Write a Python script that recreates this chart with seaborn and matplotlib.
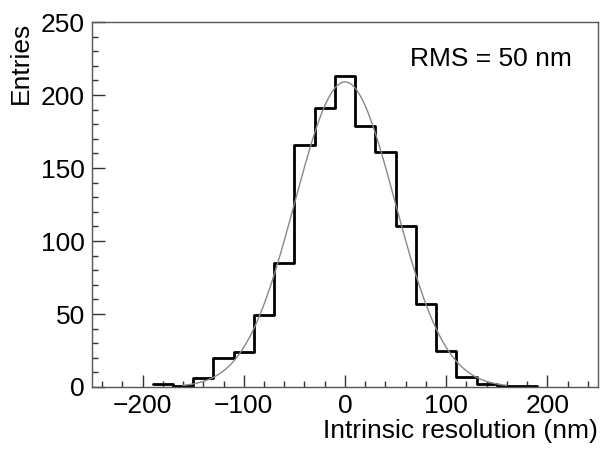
import numpy as np
import matplotlib
matplotlib.use("Agg")
import matplotlib.pyplot as plt
from matplotlib.ticker import MultipleLocator
import seaborn as sns

# histogram data: 20 nm bins
bin_edges = [-190, -170, -150, -130, -110, -90, -70, -50, -30, -10,
             10, 30, 50, 70, 90, 110, 130, 150, 170, 190]
bin_centres = [-180, -160, -140, -120, -100, -80, -60, -40, -20, 0,
               20, 40, 60, 80, 100, 120, 140, 160, 180]
counts = [2, 1, 6, 20, 24, 49, 85, 166, 191, 213,
          179, 161, 110, 57, 25, 7, 2, 1, 1]

# gaussian fit parameters
fit_amp = 209
fit_mean = 0
fit_sigma = 49.5
fit_range = (-160, 160)

sns.set_theme(style="white")
plt.rcParams['font.family'] = ['Liberation Sans', 'DejaVu Sans']
plt.rcParams['text.color'] = 'black'
plt.rcParams['axes.labelcolor'] = 'black'
plt.rcParams['xtick.labelcolor'] = 'black'
plt.rcParams['ytick.labelcolor'] = 'black'

fig = plt.figure(figsize=(6.01, 4.5), dpi=100)
ax = fig.add_axes([0.153, 0.14, 0.842, 0.811])

sns.histplot(x=bin_centres, weights=counts, bins=bin_edges, element="step",
             fill=False, color="black", linewidth=2, ax=ax)

xf = np.linspace(fit_range[0], fit_range[1], 400)
yf = fit_amp * np.exp(-0.5 * ((xf - fit_mean) / fit_sigma) ** 2)
sns.lineplot(x=xf, y=yf, color="#888888", linewidth=1, ax=ax)

ax.set_xlim(-250, 250)
ax.set_ylim(0, 250)
ax.xaxis.set_major_locator(MultipleLocator(100))
ax.xaxis.set_minor_locator(MultipleLocator(20))
ax.yaxis.set_major_locator(MultipleLocator(50))
ax.yaxis.set_minor_locator(MultipleLocator(10))
ax.tick_params(which="both", direction="in", top=False, right=False,
               bottom=True, left=True, color="#333333", labelsize=19)
ax.tick_params(which="major", length=9, width=1, pad=5)
ax.tick_params(which="minor", length=4.5, width=1)

for s in ax.spines.values():
    s.set_color("#555555")
    s.set_linewidth(1)

ax.set_xlabel("Intrinsic resolution (nm)", fontsize=19, loc="right", labelpad=1)
ax.set_ylabel("Entries", fontsize=19, loc="top", labelpad=6)
ax.text(0.949, 0.9, "RMS = 50 nm", transform=ax.transAxes, fontsize=19,
        ha="right", va="center")

fig.savefig("out.png", dpi=100)
